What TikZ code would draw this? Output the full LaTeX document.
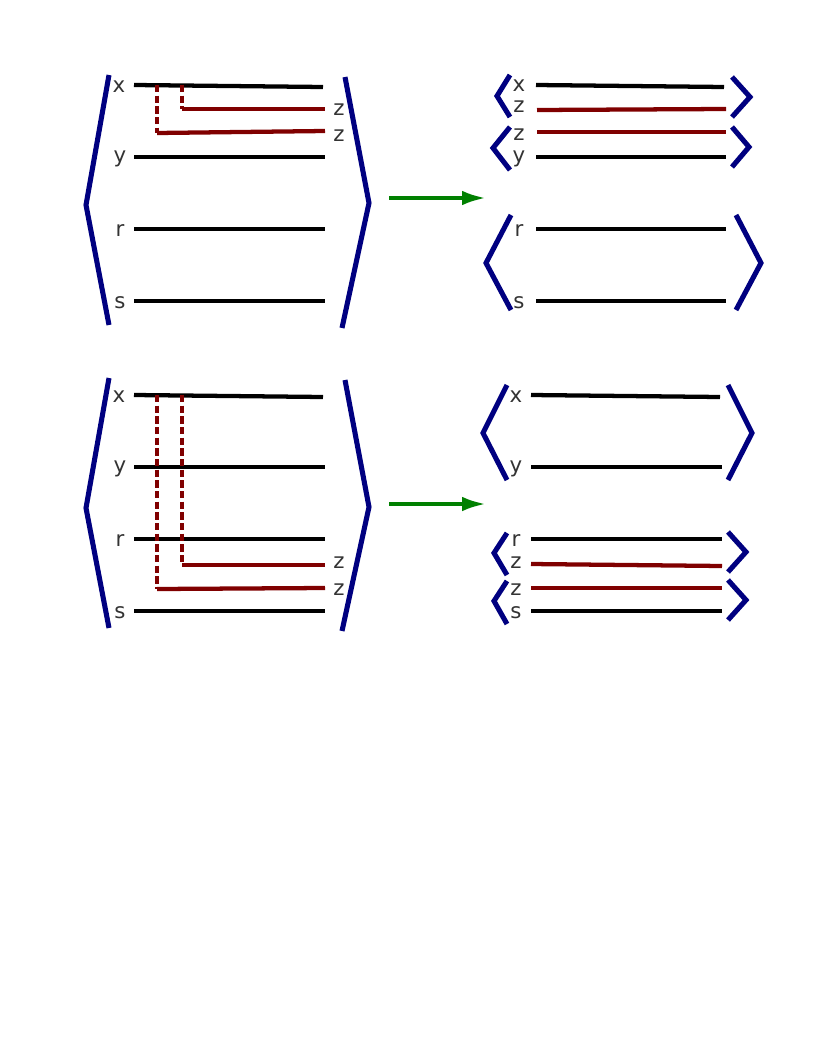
\documentclass[tikz,border=0pt]{standalone}
\usepackage{fontspec}
\setmainfont{DejaVu Sans}
\usetikzlibrary{arrows.meta}
\definecolor{navy}{RGB}{0,0,128}
\definecolor{dred}{RGB}{128,0,0}
\definecolor{dgreen}{RGB}{0,128,0}
\definecolor{lbl}{RGB}{51,51,51}
\begin{document}
\begin{tikzpicture}[x=0.75pt,y=-0.75pt,
  br/.style={draw=navy,line width=3.8pt,line join=miter},
  bl/.style={draw=black,line width=3.2pt},
  rl/.style={draw=dred,line width=3.2pt},
  dl/.style={draw=dred,line width=3.2pt,dash pattern=on 5.5pt off 2.5pt},
  lb/.style={text=lbl,font=\fontsize{16}{16}\selectfont,inner sep=0pt,yshift=-1.5pt},
  ar/.style={draw=dgreen,line width=3pt,-{Latex[length=18pt,width=11pt]}}]
\useasboundingbox (0,0) rectangle (816,1056);
% ---------- top panel ----------
\draw[br] (109,75)--(86,205)--(109,325);
\draw[br] (345,77)--(369,203)--(342,328);
\draw[bl] (134,85)--(323,87);
\draw[bl] (134,157)--(325,157);
\draw[bl] (134,229)--(325,229);
\draw[bl] (134,301)--(325,301);
\draw[dl] (182,85)--(182,109);
\draw[rl] (182,109)--(325,109);
\draw[dl] (157,85)--(157,133);
\draw[rl] (157,133)--(325,131);
\node[lb] (tx) at (119,85) {x};
\node[lb] (ty) at (120,157) {y};
\node[lb] (tr) at (120,229) {r};
\node[lb] (ts) at (120,301) {s};
\node[lb] (tz1) at (339,108) {z};
\node[lb] (tz2) at (339,134) {z};
\coordinate (a1s) at (389,198); \coordinate (a1e) at (486,198);
\draw[ar] (a1s)--(a1e);
\draw[br] (510,75)--(497,96)--(510,117);
\draw[br] (732,77)--(750,97)--(732,117);
\draw[br] (510,127)--(493,148)--(510,170);
\draw[br] (732,127)--(749,147)--(732,167);
\draw[br] (511,215)--(486,263)--(511,310);
\draw[br] (736,215)--(761,263)--(736,310);
\draw[bl] (536,85)--(724,87);
\draw[rl] (537,110)--(726,109);
\draw[rl] (537,132)--(726,132);
\draw[bl] (536,157)--(726,157);
\draw[bl] (536,229)--(726,229);
\draw[bl] (536,301)--(726,301);
\node[lb] (rx) at (519,84) {x};
\node[lb] (rz1) at (519,105) {z};
\node[lb] (rz2) at (519,133) {z};
\node[lb] (ry) at (519,157) {y};
\node[lb] (rr) at (519,229) {r};
\node[lb] (rs) at (519,301) {s};
% ---------- bottom panel ----------
\draw[br] (109,378)--(86,508)--(109,628);
\draw[br] (345,380)--(369,507)--(342,631);
\draw[bl] (134,395)--(323,397);
\draw[bl] (134,467)--(325,467);
\draw[bl] (134,539)--(325,539);
\draw[bl] (134,611)--(325,611);
\draw[dl] (182,395)--(182,565);
\draw[rl] (182,565)--(325,565);
\draw[dl] (157,395)--(157,589);
\draw[rl] (157,589)--(325,588);
\node[lb] (bx) at (119,395) {x};
\node[lb] (by) at (120,467) {y};
\node[lb] (br) at (120,539) {r};
\node[lb] (bs) at (120,611) {s};
\node[lb] (bz1) at (339,561) {z};
\node[lb] (bz2) at (339,588) {z};
\coordinate (a2s) at (389,504); \coordinate (a2e) at (486,504);
\draw[ar] (a2s)--(a2e);
\draw[br] (507,385)--(483,433)--(507,480);
\draw[br] (728,385)--(752,433)--(728,480);
\draw[br] (507,533)--(494,553)--(507,575);
\draw[br] (728,532)--(746,552)--(728,572);
\draw[br] (507,581)--(494,601)--(507,624);
\draw[br] (728,580)--(746,600)--(728,620);
\draw[bl] (531,395)--(720,397);
\draw[bl] (531,467)--(722,467);
\draw[bl] (531,539)--(722,539);
\draw[rl] (531,564)--(722,566);
\draw[rl] (531,588)--(722,588);
\draw[bl] (531,611)--(722,611);
\node[lb] (qx) at (516,395) {x};
\node[lb] (qy) at (516,467) {y};
\node[lb] (qr) at (516,539) {r};
\node[lb] (qz1) at (516,561) {z};
\node[lb] (qz2) at (516,588) {z};
\node[lb] (qs) at (516,611) {s};
\end{tikzpicture}
\end{document}
